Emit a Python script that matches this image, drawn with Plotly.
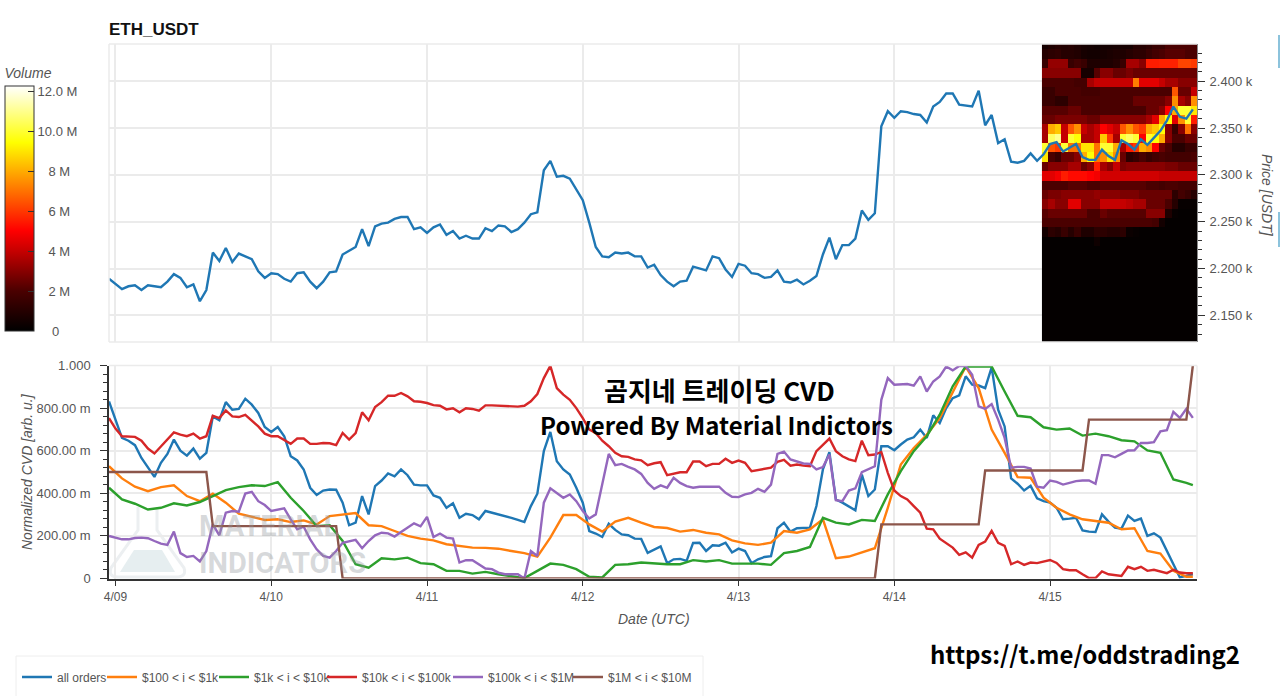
"""ETH_USDT price / volume heatmap with normalized CVD panel."""

import pandas as pd
import plotly.graph_objects as go
from plotly.subplots import make_subplots

WIDTH = 1280
HEIGHT = 696
BLUE = "#1f77b4"
ORANGE = "#ff7f0e"
GREEN = "#2ca02c"
RED = "#d62728"
PURPLE = "#9467bd"
BROWN = "#8c564b"
TEXT = "#555555"
AXIS = "#333333"
GRID = "#ebebeb"
SANS = "Liberation Sans"
CJK = "Noto Sans CJK KR"

start = pd.Timestamp("2023-04-08 23:00")

# hours since start
hours = list(range(168))
step_hours = list(range(0, 168, 2)) + [167]
brown_hours = [0, 15, 16, 35, 36, 118, 119, 134, 135, 150, 151, 166, 167]

day_ticks = ["2023-04-09", "2023-04-10", "2023-04-11", "2023-04-12", "2023-04-13", "2023-04-14", "2023-04-15"]
day_labels = ["4/09", "4/10", "4/11", "4/12", "4/13", "4/14", "4/15"]
price_ticks = [2150, 2200, 2250, 2300, 2350, 2400]
price_labels = ["2.150 k", "2.200 k", "2.250 k", "2.300 k", "2.350 k", "2.400 k"]
cvd_ticks = [0, 0.2, 0.4, 0.6, 0.8, 1.0]
cvd_labels = ["0", "200.00 m", "400.00 m", "600.00 m", "800.00 m", "1.000"]
volume_ticks = [0, 2, 4, 6, 8, 10, 12]
# leading nbsp centres the short labels under the long ones
volume_labels = [
    "&nbsp;&nbsp;&nbsp;&nbsp;0",
    "&nbsp;&nbsp;&nbsp;2 M",
    "&nbsp;&nbsp;&nbsp;4 M",
    "&nbsp;&nbsp;&nbsp;6 M",
    "&nbsp;&nbsp;&nbsp;8 M",
    "10.0 M",
    "12.0 M",
]

price = [
    2189, 2183, 2178, 2181, 2182, 2177, 2182, 2181, 2180, 2186, 2194, 2190, 2180, 2183, 2165, 2177, 2217, 2208, 2222, 2207,
    2216, 2213, 2210, 2197, 2190, 2195, 2194, 2189, 2186, 2195, 2196, 2186, 2179, 2186, 2196, 2197, 2215, 2219, 2223, 2242,
    2224, 2245, 2248, 2249, 2253, 2255, 2255, 2242, 2244, 2238, 2244, 2247, 2236, 2240, 2232, 2235, 2232, 2232, 2243, 2240,
    2246, 2245, 2239, 2242, 2249, 2258, 2260, 2305, 2315, 2298, 2299, 2296, 2284, 2273, 2249, 2223, 2213, 2212, 2217, 2216,
    2217, 2213, 2213, 2201, 2204, 2193, 2186, 2181, 2186, 2187, 2202, 2200, 2198, 2213, 2211, 2199, 2191, 2205, 2203, 2195,
    2194, 2190, 2191, 2198, 2186, 2185, 2188, 2183, 2187, 2192, 2215, 2233, 2210, 2225, 2225, 2232, 2262, 2252, 2259, 2352,
    2368, 2361, 2368, 2367, 2365, 2364, 2356, 2373, 2378, 2387, 2387, 2375, 2374, 2373, 2390, 2353, 2364, 2334, 2338, 2314,
    2313, 2315, 2323, 2315, 2322, 2333, 2335, 2325, 2329, 2333, 2319, 2316, 2316, 2327, 2320, 2316, 2337, 2333, 2327, 2338,
    2332, 2339, 2347, 2358, 2373, 2362, 2360, 2370,
]

all_orders = [
    .831, .746, .660, .647, .626, .566, .520, .477, .543, .585, .652, .600, .577, .610, .563, .590, .761, .743, .828, .792,
    .796, .844, .816, .777, .711, .688, .711, .668, .574, .554, .512, .426, .392, .413, .418, .417, .356, .250, .262, .387,
    .301, .434, .460, .493, .480, .512, .485, .441, .437, .437, .390, .379, .332, .353, .285, .304, .298, .278, .317, .309,
    .303, .293, .285, .275, .265, .340, .398, .598, .688, .551, .512, .488, .426, .356, .223, .211, .195, .257, .228, .207,
    .203, .187, .186, .120, .137, .151, .072, .090, .092, .083, .167, .168, .129, .156, .154, .168, .122, .140, .129, .072,
    .090, .101, .105, .236, .262, .220, .236, .236, .239, .340, .512, .593, .371, .356, .337, .320, .488, .387, .418, .621,
    .621, .602, .629, .652, .663, .699, .660, .766, .730, .800, .847, .860, .949, .910, .906, .894, .991, .793, .714, .470,
    .445, .413, .435, .376, .363, .356, .332, .278, .281, .285, .226, .220, .218, .301, .267, .239, .234, .295, .270, .281,
    .200, .212, .192, .129, .067, .005, .012, .020,
]

orders_10k_100k = [
    .753, .704, .668, .668, .665, .647, .610, .587, .621, .657, .686, .675, .668, .680, .657, .668, .764, .753, .789, .761,
    .758, .768, .743, .714, .680, .668, .668, .649, .632, .657, .657, .632, .632, .636, .635, .626, .683, .652, .683, .780,
    .743, .805, .828, .858, .858, .871, .855, .832, .830, .824, .814, .811, .794, .799, .780, .799, .796, .788, .813, .813,
    .811, .810, .808, .807, .811, .832, .866, .941, .998, .894, .863, .839, .800, .753, .699, .683, .647, .621, .590, .574,
    .571, .559, .555, .532, .541, .546, .485, .493, .499, .499, .549, .549, .527, .538, .538, .562, .543, .554, .543, .504,
    .509, .516, .520, .548, .557, .530, .535, .530, .527, .598, .629, .657, .598, .574, .559, .551, .647, .579, .582, .594,
    .496, .413, .387, .371, .340, .309, .234, .231, .187, .165, .145, .111, .123, .098, .158, .173, .223, .168, .153, .067,
    .080, .064, .075, .072, .080, .087, .073, .044, .039, .039, .020, .002, .002, .033, .020, .017, .012, .055, .044, .055,
    .036, .041, .033, .025, .041, .028, .025, .025,
]

orders_100k_1m = [
    .200, .192, .184, .184, .190, .192, .189, .176, .164, .158, .220, .119, .101, .106, .080, .129, .254, .203, .309, .317,
    .314, .399, .407, .363, .345, .317, .324, .329, .278, .231, .243, .184, .137, .106, .098, .129, .168, .173, .181, .142,
    .176, .203, .215, .212, .197, .218, .239, .259, .245, .289, .195, .211, .192, .187, .075, .086, .086, .067, .047, .044,
    .028, .020, .020, .020, .000, .129, .106, .356, .423, .402, .379, .395, .363, .317, .282, .301, .441, .585, .532, .538,
    .524, .512, .491, .449, .421, .437, .426, .473, .449, .434, .426, .431, .431, .431, .431, .402, .384, .382, .395, .402,
    .421, .407, .441, .585, .596, .559, .551, .540, .538, .512, .523, .582, .368, .363, .413, .423, .499, .512, .527, .839,
    .941, .910, .910, .913, .905, .949, .878, .925, .949, .995, .977, .998, .998, .956, .808, .796, .819, .746, .660, .520,
    .524, .524, .516, .431, .426, .460, .454, .441, .449, .457, .460, .460, .445, .579, .579, .569, .585, .601, .602, .636,
    .636, .640, .691, .696, .782, .754, .797, .754,
]

orders_100_1k = [
    .527, .470, .431, .410, .429, .438, .387, .363, .398, .356, .304, .289, .275, .278, .265, .273, .254, .293, .301, .307,
    .250, .246, .223, .200, .187, .179, .161, .153, .145, .144, .140, .129, .119, .103, .192, .298, .298, .254, .220, .267,
    .285, .262, .242, .237, .220, .228, .215, .207, .179, .165, .158, .168, .223, .215, .231, .278, .095, .103, .122, .142,
    .332, .535, .613, .675, .753, .878, .995, .894, .699, .590, .476, .473, .379, .332, .301, .278, .270, .262, .231, .236,
    .129, .117, .036, .008, .008,
]

orders_1k_10k = [
    .426, .371, .351, .324, .332, .353, .343, .359, .387, .415, .429, .438, .434, .452, .379, .317, .246, .250, .176, .067,
    .051, .095, .090, .098, .072, .067, .036, .036, .023, .031, .020, .012, .002, .036, .070, .064, .044, .008, .005, .064,
    .067, .075, .070, .067, .067, .086, .080, .086, .070, .070, .070, .064, .119, .129, .148, .285, .262, .254, .275, .270,
    .395, .504, .598, .668, .769, .902, .995, .995, .995, .878, .764, .757, .710, .699, .704, .671, .680, .668, .649, .644,
    .601, .590, .465, .449, .438,
]

orders_1m_10m = [.500, .500, .246, .246, 0, 0, .254, .254, .507, .507, .746, .746, 1.0]

# volume heatmap, rows top to bottom, values in millions
heat_hours = [144.25 + k for k in range(24)]
heat_prices = [
    2439, 2429, 2419, 2409, 2399, 2389, 2379, 2369, 2359, 2349, 2339, 2329, 2319, 2309, 2299, 2289, 2279, 2269, 2259, 2249,
    2239, 2229, 2219, 2209, 2199, 2189, 2179, 2169, 2159, 2149, 2139, 2129, 2119,
]
heat_volume = [
    [.6, .8, 1, .9, 1, .8, .6, .5, .4, .5, .5, .6, .6, .6, 1, 1, 1.2, 1.5, 1.5, 2, 2, 2, 2, 2],
    [1, 1.2, 1.3, 1, 1, .9, .6, .5, .5, .6, .7, .8, .8, 1, 1.2, 1.2, 1.5, 1.8, 2, 2.2, 2.2, 2.2, 2, 2],
    [1.5, 3.2, 3.2, 3.2, 1.5, 1.8, 1.5, .8, .8, .8, .8, 1, 1.5, 3.5, 3.5, 3, 5.5, 5.5, 5.6, 5.6, 5.6, 6.2, 6.2, 6],
    [3, 3, 3, 3, 3, 3, .6, .6, 2.2, 3, 3, 2.5, 2.5, 2.8, 2.5, 2.5, 2.5, 2.5, 2.5, 2.5, 2.5, 2.5, 2.5, 2.5],
    [2, 2, 2, 2, 2, 1.8, 1.8, 3.5, 4, 4, 4, 4, 4, 4, 7.2, 4.5, 4.5, 4.5, 4, 3.5, 3.5, 3, 3, 3],
    [1.5, 1.5, 2, 2, 2, 2, 1.8, 1.8, 1.8, 2, 2, 2, 2, 2, 2, 2, 2, 2, 2, 2, 6.5, 2.5, 2.5, 4],
    [1.5, 1.5, 1.2, 1.2, 2, 2, 2, 2, 2, 2, 2, 2, 2, 2, 2.5, 2.5, 2.5, 2.5, 2.5, 3, 7.5, 3.5, 3, 7.5],
    [2.2, 2.2, 2.2, 2.2, 2.5, 2.5, 2, 2, 2, 2, 2, 2, 2, 2, 2, 2, 2.5, 2.5, 3, 5, 8, 10, 10, 9],
    [2.5, 2.5, 2.8, 2.8, 2.8, 2.8, 2.8, 2.5, 2.5, 3, 3, 3, 3, 3, 3, 3, 3.5, 4.5, 8, 9.5, 4.5, 7.5, 10, 5.5],
    [3.5, 8, 8.5, 4, 6.5, 7.5, 4, 3.5, 4, 5, 4.5, 4, 6.5, 7.5, 6.5, 6, 8, 8.5, 9.5, 3, 1.5, 3, 7, 3],
    [3.5, 10.5, 11, 4, 10, 9.5, 3.5, 3.5, 4, 8.5, 6, 3.5, 10, 10.5, 10, 5, 10, 9.5, 8, 3, 2, 2, 2.5, 2.5],
    [10, 6.5, 6, 10, 7, 7, 9, 9, 7, 10, 10, 8, 3.5, 5.5, 6, 8, 7.5, 5, 2.5, 2, 1, 1, 1.5, 1.5],
    [9, 2, 1.5, 2.5, 2.5, 3, 8, 9.5, 7, 7.5, 9, 7.5, 2.5, 1.2, 1.5, 2, 1.5, 1.8, 2, 1.8, 1.8, 1.8, 1.8, 2],
    [2.5, 3, 3, 3, 3.5, 3.5, 2.5, 3, 5.5, 3.5, 3, 4, 2.8, 3, 3, 3, 3, 3, 3, 2.8, 2.8, 2.5, 2.5, 2.5],
    [4.5, 4.5, 4.8, 5.5, 5.2, 5.2, 5.2, 5, 4.8, 4.2, 4.2, 4.2, 4.2, 4.2, 4.2, 4.2, 4.2, 4.2, 4, 4, 4, 4, 4, 4],
    [2, 2, 2, 2, 2.2, 2.2, 2.2, 2, 2, 2.2, 2.2, 2.2, 2.2, 2.2, 2.2, 2.2, 2, 2, 1.8, 2, 2, 1.8, 1.8, 1.8],
    [2.5, 2.8, 2.8, 3, 3, 3, 3, 3, 3.2, 3, 3, 3, 2.8, 2.8, 2.8, 2.5, 2.5, 2.5, 2.5, 2.5, 1.2, 1.8, 1.5, 1],
    [3, 3.5, 3, 3, 4.5, 4.5, 3, 3, 3, 4, 4, 4, 4, 3.8, 3.5, 3.5, 2.5, 2.5, 2.5, 2, 1, .2, .2, .2],
    [2.2, 2.5, 2.5, 2.5, 2.5, 2.5, 2.5, 2, 2, 2.5, 2.2, 2.2, 2.2, 2.2, 2.2, 2.2, 3, 3, 3, .8, .2, .1, .1, .1],
    [2, 2, 2, 2, 2, 2, 2, 2, 2, 2, 2, 2, 2, 2, 2, 2, 2, 1.8, .5, .1, .1, .1, .1, .1],
    [.5, 1.2, 1, 1.5, 1, 1.5, .8, .8, 1.2, 1.2, 1, 1, 1.2, .3, .2, .1, .1, .1, .1, .1, .1, .1, .1, .1],
    [.1, .1, .1, .1, .1, .1, .1, .1, .4, .1, .1, .1, .1, .1, .1, .1, .1, .1, .1, .1, .1, .1, .1, .1],
] + [[.1] * 24] * 11

legend_names = ["all orders", "$100 < i < $1k", "$1k < i < $10k", "$10k < i < $100k", "$100k < i < $1M", "$1M < i < $10M"]


def to_time(values):
    return [start + pd.Timedelta(hours=h) for h in values]


def px(x):
    return x / WIDTH


def py(y):
    return 1 - y / HEIGHT


fig = make_subplots(rows=2, cols=1, shared_xaxes=True)

fig.add_trace(
    go.Heatmap(
        x=to_time(heat_hours),
        y=heat_prices,
        z=heat_volume,
        zmin=0,
        zmax=12.25,
        zsmooth=False,
        colorscale=[
            [0, "#000000"],
            [0.163, "#4a0000"],
            [0.33, "#c80000"],
            [0.41, "#ff0000"],
            [0.77, "#ffff00"],
            [1, "#ffffff"],
        ],
        colorbar=dict(
            x=px(5),
            xanchor="left",
            xpad=0,
            ypad=0,
            y=py(198),
            yanchor="middle",
            lenmode="pixels",
            len=266,
            thicknessmode="pixels",
            thickness=29,
            outlinecolor=AXIS,
            outlinewidth=1,
            tickmode="array",
            tickvals=volume_ticks,
            ticktext=volume_labels,
            ticks="inside",
            ticklen=6,
            tickcolor=AXIS,
            tickfont=dict(family=SANS, size=13, color=TEXT),
            title=dict(text="<i>Volume</i>", side="top", font=dict(family=SANS, size=14, color=TEXT)),
        ),
    ),
    row=1,
    col=1,
)
fig.add_trace(
    go.Scatter(x=to_time(hours), y=price, mode="lines", line=dict(color=BLUE, width=2.4), showlegend=False),
    row=1,
    col=1,
)

# cvd panel, one legend per trace so the entries sit closer together
series = [
    (hours, all_orders, BLUE),
    (step_hours, orders_100_1k, ORANGE),
    (step_hours, orders_1k_10k, GREEN),
    (hours, orders_10k_100k, RED),
    (hours, orders_100k_1m, PURPLE),
    (brown_hours, orders_1m_10m, BROWN),
]
legend_refs = ["legend", "legend2", "legend3", "legend4", "legend5", "legend6"]
for name, ref, (xs, ys, color) in zip(legend_names, legend_refs, series):
    fig.add_trace(
        go.Scatter(x=to_time(xs), y=ys, mode="lines", name=name, legend=ref, line=dict(color=color, width=2.4)),
        row=2,
        col=1,
    )

x_range = [start, start + pd.Timedelta(hours=167.64)]
tick_font = dict(family=SANS, size=13, color=TEXT)

fig.update_xaxes(
    range=x_range,
    domain=[px(109), px(1197)],
    tickmode="array",
    tickvals=day_ticks,
    ticktext=day_labels,
    showgrid=True,
    gridcolor=GRID,
    gridwidth=1.5,
    zeroline=False,
    tickfont=dict(family=SANS, size=12, color=TEXT),
)
fig.update_xaxes(showticklabels=False, ticks="", showline=False, row=1, col=1)
fig.update_xaxes(
    showline=True,
    linecolor=AXIS,
    linewidth=1.5,
    ticks="outside",
    ticklen=6,
    tickcolor=AXIS,
    row=2,
    col=1,
)
fig.update_yaxes(
    domain=[py(342), py(44)],
    range=[2121.5, 2439.8],
    side="right",
    tickmode="array",
    tickvals=price_ticks,
    ticktext=price_labels,
    ticks="outside",
    ticklen=7,
    tickcolor=AXIS,
    tickfont=tick_font,
    ticklabelstandoff=2,
    minor=dict(dtick=10, ticks="outside", ticklen=4, tickcolor=AXIS, showgrid=False),
    gridcolor=GRID,
    gridwidth=1.5,
    zeroline=False,
    showline=True,
    linecolor="#888888",
    row=1,
    col=1,
)
fig.update_yaxes(
    domain=[py(578.5), py(365.5)],
    range=[0, 1],
    tickmode="array",
    tickvals=cvd_ticks,
    ticktext=cvd_labels,
    ticks="outside",
    ticklen=7,
    tickcolor=AXIS,
    tickfont=tick_font,
    ticklabelstandoff=7,
    minor=dict(dtick=0.04, ticks="outside", ticklen=4, tickcolor=AXIS, showgrid=False),
    gridcolor=GRID,
    gridwidth=1.5,
    zeroline=False,
    showline=True,
    linecolor=AXIS,
    linewidth=1.5,
    row=2,
    col=1,
)

# frame lines, legend box, watermark flask, edge marks
frame = dict(color=GRID, width=1.5)
shapes = [
    dict(type="line", x0=px(109), x1=px(109), y0=py(44), y1=py(342), line=frame),
    dict(type="line", x0=px(109), x1=px(1197), y0=py(44), y1=py(44), line=frame),
    dict(type="line", x0=px(109), x1=px(1197), y0=py(342), y1=py(342), line=frame),
    dict(type="line", x0=px(109), x1=px(1197), y0=py(365.5), y1=py(365.5), line=frame),
    dict(type="line", x0=px(1197), x1=px(1197), y0=py(365.5), y1=py(578), line=frame),
    dict(type="rect", x0=px(16), x1=px(703), y0=py(656), y1=py(697), line=dict(color="#eeeeee", width=1)),
    dict(
        type="path",
        path=f"M {px(138)} {py(507)} L {px(138)} {py(530)} L {px(111)} {py(568)} Q {px(108)} {py(577)} {px(118)} {py(577)} "
        f"L {px(176)} {py(577)} Q {px(187)} {py(577)} {px(184)} {py(568)} L {px(157)} {py(530)} L {px(157)} {py(507)}",
        line=dict(color="#eceff1", width=3),
        layer="below",
    ),
    dict(
        type="path",
        path=f"M {px(134)} {py(550)} L {px(162)} {py(550)} L {px(175)} {py(572)} L {px(120)} {py(572)} Z",
        fillcolor="#e6eef0",
        line=dict(width=0),
        layer="below",
    ),
    dict(type="rect", x0=px(1278), x1=px(1280), y0=py(35), y1=py(68), fillcolor="#8cc3dc", line=dict(width=0)),
    dict(type="rect", x0=px(1278), x1=px(1280), y0=py(212), y1=py(247), fillcolor="#8cc3dc", line=dict(width=0)),
]
for shape in shapes:
    shape.update(xref="paper", yref="paper")

mark_font = dict(family="Roboto", size=29, color="rgba(150,155,160,0.38)")
big_font = dict(family=CJK, size=24, color="#000000")
title_font = dict(family=SANS, size=14, color=TEXT)
annotations = [
    dict(x=px(197), y=py(526), text="<b>MATERIAL</b>", xanchor="left", font=mark_font),
    dict(x=px(197), y=py(563), text="<b>INDICATORS</b>", xanchor="left", font=mark_font),
    dict(x=px(719), y=py(390), text="<b>곰지네 트레이딩 CVD</b>", xanchor="center", font=dict(family=CJK, size=26, color="#000000")),
    dict(x=px(716), y=py(424), text="<b>Powered By Material Indictors</b>", xanchor="center", font=big_font),
    dict(x=px(1085), y=py(653), text="<b>https://t.me/oddstrading2</b>", xanchor="center", font=big_font),
    dict(x=px(1267), y=py(195), text="<i>Price [USDT]</i>", xanchor="center", textangle=90, font=title_font),
    dict(x=px(27), y=py(472), text="<i>Normalized CVD [arb. u.]</i>", xanchor="center", textangle=-90, font=title_font),
    dict(x=px(654), y=py(619), text="<i>Date (UTC)</i>", xanchor="center", font=title_font),
]
for note in annotations:
    note.update(xref="paper", yref="paper", showarrow=False, yanchor="middle")

legend_lefts = [17, 102, 214, 322, 448, 568]
legends = {
    ref: dict(
        x=px(left),
        y=py(677),
        xanchor="left",
        yanchor="middle",
        orientation="h",
        bgcolor="rgba(0,0,0,0)",
        font=dict(family=SANS, size=12, color=TEXT),
        itemwidth=30,
    )
    for ref, left in zip(legend_refs, legend_lefts)
}

fig.update_layout(
    width=WIDTH,
    height=HEIGHT,
    margin=dict(l=0, r=0, t=0, b=0, autoexpand=False),
    paper_bgcolor="white",
    plot_bgcolor="white",
    font=dict(family=SANS, color=TEXT),
    title=dict(
        text="<b>ETH_USDT</b>",
        x=px(109),
        xanchor="left",
        y=py(29),
        yanchor="middle",
        font=dict(family=SANS, size=17, color="#111111"),
    ),
    shapes=shapes,
    annotations=annotations,
    **legends,
)

fig.write_html(
    "out.html",
    config={"displayModeBar": False},
    post_script="document.body.style.margin='0';",
)
